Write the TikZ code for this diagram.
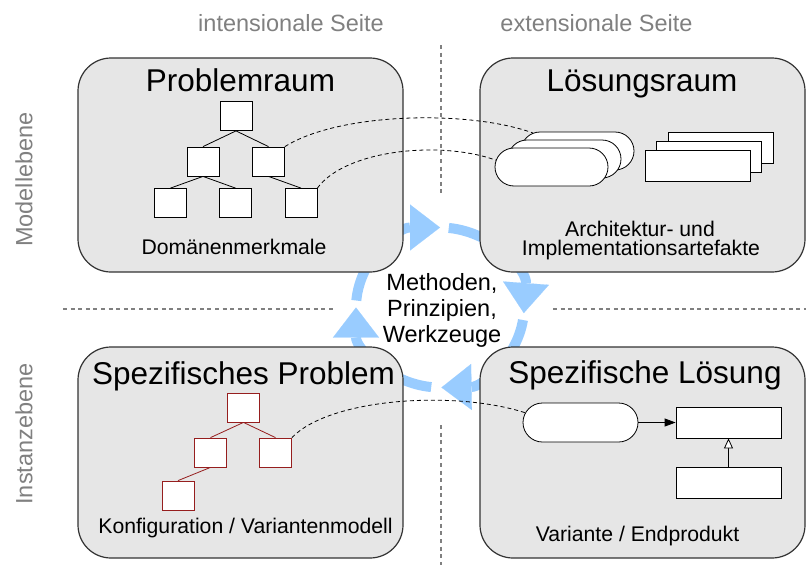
\documentclass[tikz,border=0pt]{standalone}
\usepackage{fontspec}
\setmainfont{Liberation Sans}
\usetikzlibrary{arrows.meta,shapes.misc}

\definecolor{boxfill}{RGB}{230,230,230}
\definecolor{boxline}{RGB}{51,51,51}
\definecolor{labelgray}{RGB}{128,128,128}
\definecolor{cycleblue}{RGB}{153,204,255}
\definecolor{cfgred}{RGB}{150,30,30}

\begin{document}
\begin{tikzpicture}[x=1pt,y=-1pt,
  area/.style={draw=boxline, line width=1.2pt, fill=boxfill, rounded corners=33pt,
    inner sep=0pt, minimum width=325pt},
  feat/.style={draw, fill=white, line width=0.8pt, minimum width=32pt,
    minimum height=29pt, inner sep=0pt},
  cfg/.style={feat, draw=cfgred},
  tree/.style={line width=0.8pt},
  cfgtree/.style={line width=0.8pt, draw=cfgred},
  stad/.style={draw, fill=white, rounded rectangle, minimum width=113pt,
    minimum height=38pt, inner sep=0pt, line width=0.8pt},
  art/.style={draw, fill=white, minimum width=105pt, minimum height=31pt,
    inner sep=0pt, line width=0.8pt},
  link/.style={dash pattern=on 4pt off 3pt, line width=0.8pt},
  divider/.style={draw=labelgray, line width=2.4pt, dash pattern=on 4pt off 3.6pt},
  cyc/.style={draw=cycleblue, line width=10pt,
    -{Triangle[width=46pt,length=30pt,line width=0.1pt]}},
  title/.style={font=\fontsize{31.5}{36}\selectfont, anchor=base, inner sep=0pt},
  lab/.style={font=\fontsize{21.2}{25}\selectfont, anchor=base, inner sep=0pt},
  hdr/.style={font=\fontsize{23.5}{27}\selectfont, text=labelgray, inner sep=0pt},
]
\useasboundingbox (0,0) rectangle (808,570);

% level and side dividers
\draw[divider] (441,45) -- (441,195);
\draw[divider] (441,425) -- (441,565);
\draw[divider] (63,309) -- (333,309);
\draw[divider] (553,309) -- (806,309);

% cycle of methods, principles and tools
\coordinate (cc) at (440,307.5);
\draw[cyc] (cc) ++(185:84 and 80) arc[start angle=185, end angle=270, x radius=84, y radius=80];
\draw[cyc] (cc) ++(276:84 and 80) arc[start angle=276, end angle=364, x radius=84, y radius=80];
\draw[cyc] (cc) ++(9:84 and 80) arc[start angle=9, end angle=89, x radius=84, y radius=80];
\draw[cyc] (cc) ++(96:84 and 80) arc[start angle=96, end angle=180, x radius=84, y radius=80];

% the four areas
\node[area, minimum height=214pt] (pr) at (240.5,165) {};
\node[area, minimum height=214pt] (lr) at (642.5,165) {};
\node[area, minimum height=211pt] (sp) at (240.5,452.5) {};
\node[area, minimum height=211pt] (sl) at (642.5,452.5) {};

% feature tree of the problem space
\node[feat] (f1)  at (236,116) {};
\node[feat] (f2a) at (203,161.5) {};
\node[feat] (f2b) at (268.5,161.5) {};
\node[feat] (f3a) at (170.5,203) {};
\node[feat] (f3b) at (235.5,203) {};
\node[feat] (f3c) at (301,203) {};
\draw[tree] (f1.south) -- (f2a.north);
\draw[tree] (f1.south) -- (f2b.north);
\draw[tree] (f2a.south) -- (f3a.north);
\draw[tree] (f2a.south) -- (f3b.north);
\draw[tree] (f2b.south) -- (f3c.north);

% artefacts of the solution space
\node[stad] (sb3) at (577.5,151) {};
\node[stad] (sb2) at (564.5,159) {};
\node[stad] (sb1) at (551.5,167) {};
\node[art] (ab3) at (720.5,147.5) {};
\node[art] (ab2) at (708.5,156.5) {};
\node[art] (ab1) at (697.5,165.5) {};

% configured feature tree
\node[cfg] (c1)  at (243.5,407.5) {};
\node[cfg] (c2a) at (210.5,452.5) {};
\node[cfg] (c2b) at (275.5,452.5) {};
\node[cfg] (c3)  at (178,495.5) {};
\draw[cfgtree] (c1.south) -- (c2a.north);
\draw[cfgtree] (c1.south) -- (c2b.north);
\draw[cfgtree] (c2a.south) -- (c3.north);

% the specific solution
\node[stad, minimum width=115pt, minimum height=39pt] (ss) at (580.5,422.5) {};
\node[art] (sr1) at (728.5,422.5) {};
\node[art] (sr2) at (728.5,482.5) {};
\draw[line width=0.8pt, -{Triangle[width=8pt,length=11pt]}] (ss.east) -- (sr1.west);
\draw[line width=0.8pt, -{Triangle[open,fill=white,width=9pt,length=10pt]}] (sr2.north) -- (sr1.south);

% traces between feature and artefact
\draw[link] (f2b.north east) .. controls (340,112) and (470,110) .. (sb3.158);
\draw[link] (f3c.north east) .. controls (345,150) and (440,140) .. (sb1.173);
\draw[link] (c2b.north east) .. controls (330,398) and (455,390) .. (ss.170);

% titles and labels
\node[title] (prT) at (240.5,91) {Problemraum};
\node[title] (lrT) at (642,91) {Lösungsraum};
\node[title] (spT) at (243.5,384) {Spezifisches Problem};
\node[title] (slT) at (645,383) {Spezifische Lösung};
\node[lab] (prL) at (234,254) {Domänenmerkmale};
\node[lab] (lrL1) at (640,236) {Architektur- und};
\node[lab] (lrL2) at (641,255.5) {Implementationsartefakte};
\node[lab] (spL) at (245.5,533) {Konfiguration / Variantenmodell};
\node[lab] (slL) at (637.5,541.5) {Variante / Endprodukt};

\node[font=\fontsize{23.5}{26}\selectfont, align=center, inner sep=0pt]
  (mid) at (442,310.5) {Methoden,\\Prinzipien,\\Werkzeuge};

% axes of the diagram
\node[hdr, anchor=base] (intS) at (291,31) {intensionale Seite};
\node[hdr, anchor=base] (extS) at (596.5,31) {extensionale Seite};
\node[hdr, rotate=90] (modE) at (24,179.5) {Modellebene};
\node[hdr, rotate=90] (insE) at (24,434) {Instanzebene};
\end{tikzpicture}
\end{document}
